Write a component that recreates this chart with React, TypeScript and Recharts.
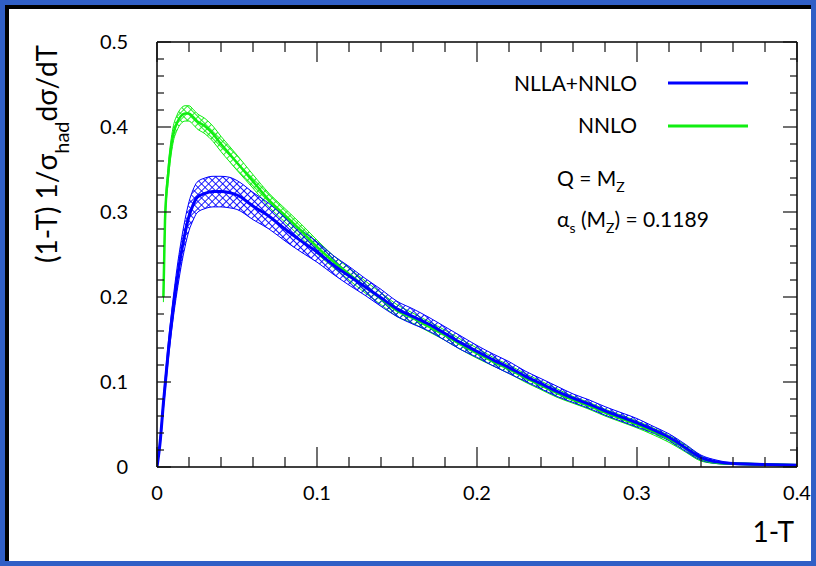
import React from 'react';
import { ComposedChart, Area, Line, XAxis, YAxis } from 'recharts';

// 1-T values
const xs = [0, 0.002, 0.004, 0.005, 0.007, 0.01, 0.0125, 0.015, 0.0175, 0.02, 0.0225, 0.025, 0.03, 0.035, 0.04, 0.045, 0.05, 0.06, 0.07, 0.08, 0.09, 0.1, 0.11, 0.12, 0.13, 0.14, 0.15, 0.16, 0.17, 0.18, 0.19, 0.2, 0.21, 0.22, 0.23, 0.24, 0.25, 0.26, 0.27, 0.28, 0.29, 0.3, 0.31, 0.32, 0.33, 0.34, 0.35, 0.36, 0.38, 0.4];

// NLLA+NNLO
const blueMid = [0, 0.03, 0.075, 0.095, 0.135, 0.185, 0.22, 0.25, 0.275, 0.295, 0.308, 0.317, 0.322, 0.324, 0.324, 0.323, 0.32, 0.307, 0.295, 0.28, 0.266, 0.253, 0.238, 0.225, 0.212, 0.199, 0.186, 0.177, 0.168, 0.157, 0.146, 0.136, 0.126, 0.117, 0.107, 0.098, 0.089, 0.081, 0.074, 0.066, 0.059, 0.052, 0.044, 0.035, 0.023, 0.011, 0.006, 0.004, 0.003, 0.002];
const blueHi = [0, 0.034, 0.082, 0.103, 0.145, 0.197, 0.234, 0.265, 0.291, 0.312, 0.326, 0.335, 0.34, 0.342, 0.342, 0.341, 0.337, 0.323, 0.31, 0.294, 0.279, 0.265, 0.249, 0.236, 0.222, 0.209, 0.195, 0.186, 0.176, 0.165, 0.154, 0.143, 0.133, 0.124, 0.113, 0.104, 0.095, 0.086, 0.079, 0.071, 0.064, 0.057, 0.048, 0.039, 0.027, 0.014, 0.008, 0.005, 0.004, 0.003];
const blueLo = [0, 0.026, 0.068, 0.087, 0.125, 0.173, 0.206, 0.235, 0.259, 0.278, 0.29, 0.299, 0.304, 0.306, 0.306, 0.305, 0.303, 0.291, 0.28, 0.266, 0.253, 0.241, 0.227, 0.214, 0.202, 0.189, 0.177, 0.168, 0.16, 0.149, 0.138, 0.129, 0.119, 0.11, 0.101, 0.092, 0.083, 0.076, 0.069, 0.061, 0.054, 0.047, 0.04, 0.031, 0.019, 0.008, 0.004, 0.003, 0.002, 0.001];

// NNLO
const greenMid = [null, null, 0.2, 0.29, 0.345, 0.39, 0.405, 0.413, 0.416, 0.416, 0.412, 0.407, 0.401, 0.392, 0.38, 0.369, 0.358, 0.336, 0.314, 0.296, 0.278, 0.259, 0.242, 0.227, 0.212, 0.198, 0.184, 0.175, 0.165, 0.155, 0.144, 0.134, 0.124, 0.115, 0.105, 0.096, 0.087, 0.079, 0.072, 0.064, 0.057, 0.05, 0.042, 0.033, 0.022, 0.01, 0.005, 0.004, 0.003, 0.002];
const greenHi = [null, null, 0.206, 0.298, 0.354, 0.399, 0.414, 0.422, 0.425, 0.425, 0.421, 0.416, 0.41, 0.401, 0.389, 0.378, 0.367, 0.344, 0.322, 0.304, 0.286, 0.267, 0.249, 0.234, 0.219, 0.205, 0.191, 0.181, 0.171, 0.161, 0.15, 0.14, 0.129, 0.12, 0.11, 0.101, 0.092, 0.083, 0.076, 0.068, 0.061, 0.054, 0.046, 0.037, 0.026, 0.013, 0.006, 0.005, 0.004, 0.003];
const greenLo = [null, null, 0.194, 0.282, 0.336, 0.381, 0.396, 0.404, 0.407, 0.407, 0.403, 0.398, 0.392, 0.383, 0.371, 0.36, 0.349, 0.328, 0.306, 0.288, 0.27, 0.251, 0.235, 0.22, 0.205, 0.191, 0.177, 0.169, 0.159, 0.149, 0.138, 0.128, 0.119, 0.11, 0.1, 0.091, 0.082, 0.075, 0.068, 0.06, 0.053, 0.046, 0.038, 0.029, 0.018, 0.007, 0.004, 0.003, 0.002, 0.001];

// ticks
const xMajorTicks = [0, 0.1, 0.2, 0.3, 0.4];
const xMajorLabels = ['0', '0.1', '0.2', '0.3', '0.4'];
const xAllTicks = [0, 0.02, 0.04, 0.06, 0.08, 0.1, 0.12, 0.14, 0.16, 0.18, 0.2, 0.22, 0.24, 0.26, 0.28, 0.3, 0.32, 0.34, 0.36, 0.38, 0.4];
const yMajorTicks = [0, 0.1, 0.2, 0.3, 0.4, 0.5];
const yMajorLabels = ['0', '0.1', '0.2', '0.3', '0.4', '0.5'];
const yAllTicks = [0, 0.02, 0.04, 0.06, 0.08, 0.1, 0.12, 0.14, 0.16, 0.18, 0.2, 0.22, 0.24, 0.26, 0.28, 0.3, 0.32, 0.34, 0.36, 0.38, 0.4, 0.42, 0.44, 0.46, 0.48, 0.5];

const seriesNames = ['NLLA+NNLO', 'NNLO'];

const blueData = xs.map((x, i) => ({ x, mid: blueMid[i], band: [blueLo[i], blueHi[i]] }));
const greenData = xs
  .map((x, i) => ({ x, mid: greenMid[i], band: [greenLo[i], greenHi[i]] }))
  .filter((r) => r.mid != null);

const FONT = 'Lato, "Liberation Sans", sans-serif';
const BLUE = '#0000ff';
const GREEN = '#11ee11';
const TICK = '#111';

const majorIndex = (list: number[], v: number) => list.findIndex((m) => Math.abs(m - v) < 1e-9);

const BottomTick = (p: any) => {
  const idx = majorIndex(xMajorTicks, p.payload.value);
  const len = idx >= 0 ? 20 : 10;
  return (
    <g>
      <line x1={p.x} x2={p.x} y1={p.y} y2={p.y - len} stroke={TICK} strokeWidth={1.2} />
      {idx >= 0 && (
        <text x={p.x} y={p.y + 33} textAnchor="middle" fontSize={20} fontFamily={FONT} fill="#000">
          {xMajorLabels[idx]}
        </text>
      )}
    </g>
  );
};
const TopTick = (p: any) => {
  const idx = majorIndex(xMajorTicks, p.payload.value);
  const len = idx >= 0 ? 20 : 10;
  return <line x1={p.x} x2={p.x} y1={p.y} y2={p.y + len} stroke={TICK} strokeWidth={1.2} />;
};
const LeftTick = (p: any) => {
  const idx = majorIndex(yMajorTicks, p.payload.value);
  const len = idx >= 0 ? 14 : 7;
  return (
    <g>
      <line x1={p.x} x2={p.x + len} y1={p.y} y2={p.y} stroke={TICK} strokeWidth={1.2} />
      {idx >= 0 && (
        <text x={p.x - 29} y={p.y + 7} textAnchor="end" fontSize={20} fontFamily={FONT} fill="#000">
          {yMajorLabels[idx]}
        </text>
      )}
    </g>
  );
};
const RightTick = (p: any) => {
  const idx = majorIndex(yMajorTicks, p.payload.value);
  const len = idx >= 0 ? 14 : 7;
  return <line x1={p.x} x2={p.x - len} y1={p.y} y2={p.y} stroke={TICK} strokeWidth={1.2} />;
};

const axisLine = { stroke: '#000', strokeWidth: 1.5 };

export default function App() {
  return (
    <div style={{ position: 'fixed', left: 0, top: 0, width: 816, height: 566, background: '#305fc6', overflow: 'hidden' }}>
      <div
        style={{
          position: 'absolute', left: 5, top: 5, width: 806, height: 556, background: '#fff',
          borderLeft: '4px solid #000', borderTop: '4px solid #000', boxSizing: 'border-box',
        }}
      />
      <svg width={0} height={0} style={{ position: 'absolute' }}>
        <defs>
          <pattern id="hatchBlue" patternUnits="userSpaceOnUse" width={5} height={5} patternTransform="rotate(45)">
            <path d="M0 2.5H5M2.5 0V5" stroke={BLUE} strokeWidth={0.9} />
          </pattern>
          <pattern id="hatchGreen" patternUnits="userSpaceOnUse" width={5} height={5} patternTransform="rotate(45)">
            <path d="M0 2.5H5M2.5 0V5" stroke={GREEN} strokeWidth={0.9} />
          </pattern>
        </defs>
      </svg>
      <div style={{ position: 'absolute', left: 0, top: 0 }}>
        <ComposedChart width={816} height={566} margin={{ top: 41, right: 18, left: 0, bottom: 0 }}>
          <XAxis
            xAxisId="b" dataKey="x" type="number" domain={[0, 0.4]} allowDataOverflow orientation="bottom" height={99}
            ticks={xAllTicks} interval={0} tickLine={false} tickSize={0} tickMargin={0} axisLine={axisLine} tick={BottomTick}
          />
          <XAxis
            xAxisId="t" dataKey="x" type="number" domain={[0, 0.4]} allowDataOverflow orientation="top" height={1}
            ticks={xAllTicks} interval={0} tickLine={false} tickSize={0} tickMargin={0} axisLine={axisLine} tick={TopTick}
          />
          <YAxis
            yAxisId="l" type="number" domain={[0, 0.5]} allowDataOverflow orientation="left" width={157}
            ticks={yAllTicks} interval={0} tickLine={false} tickSize={0} tickMargin={0} axisLine={axisLine} tick={LeftTick}
          />
          <YAxis
            yAxisId="r" type="number" domain={[0, 0.5]} allowDataOverflow orientation="right" width={1}
            ticks={yAllTicks} interval={0} tickLine={false} tickSize={0} tickMargin={0} axisLine={axisLine} tick={RightTick}
          />
          <Area
            xAxisId="t" yAxisId="r" data={greenData} dataKey="band" type="monotone" name={seriesNames[1]}
            fill="url(#hatchGreen)" fillOpacity={1} stroke={GREEN} strokeWidth={1} dot={false} activeDot={false}
            isAnimationActive={false}
          />
          <Line
            xAxisId="t" yAxisId="r" data={greenData} dataKey="mid" type="monotone" name={seriesNames[1]}
            stroke={GREEN} strokeWidth={2.5} dot={false} activeDot={false} isAnimationActive={false}
          />
          <Area
            xAxisId="b" yAxisId="l" data={blueData} dataKey="band" type="monotone" name={seriesNames[0]}
            fill="url(#hatchBlue)" fillOpacity={1} stroke={BLUE} strokeWidth={1} dot={false} activeDot={false}
            isAnimationActive={false}
          />
          <Line
            xAxisId="b" yAxisId="l" data={blueData} dataKey="mid" type="monotone" name={seriesNames[0]}
            stroke={BLUE} strokeWidth={3} dot={false} activeDot={false} isAnimationActive={false}
          />
        </ComposedChart>
      </div>
      <svg width={816} height={566} style={{ position: 'absolute', left: 0, top: 0, pointerEvents: 'none' }} fontFamily={FONT}>
        <text transform="translate(57,263) rotate(-90)" fontSize={28} fill="#000">
          (1-T) 1/σ<tspan fontSize={20} dy={12}>had</tspan><tspan dy={-12}>dσ/dT</tspan>
        </text>
        <text x={794} y={542} textAnchor="end" fontSize={28} fill="#000">1-T</text>
        <text x={637} y={91} textAnchor="end" fontSize={21} fill="#000">{seriesNames[0]}</text>
        <line x1={668} x2={748} y1={83} y2={83} stroke={BLUE} strokeWidth={3} />
        <text x={637} y={133} textAnchor="end" fontSize={21} fill="#000">{seriesNames[1]}</text>
        <line x1={668} x2={748} y1={126} y2={126} stroke={GREEN} strokeWidth={3} />
        <text x={557} y={186} fontSize={21} fill="#000">
          Q = M<tspan fontSize={14} dy={6}>Z</tspan>
        </text>
        <text x={557} y={227} fontSize={21} fill="#000">
          α<tspan fontSize={14} dy={6}>s</tspan><tspan dy={-6}> (M</tspan><tspan fontSize={14} dy={6}>Z</tspan><tspan dy={-6}>) = 0.1189</tspan>
        </text>
      </svg>
    </div>
  );
}
